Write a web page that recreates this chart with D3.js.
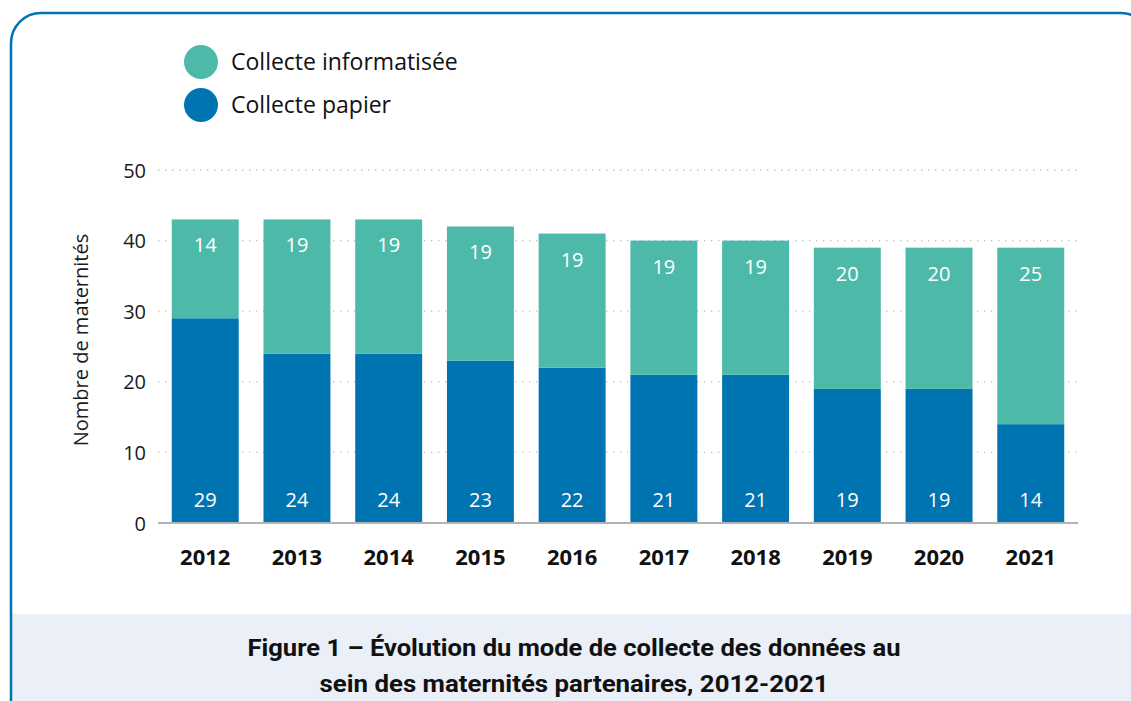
<!DOCTYPE html>
<html lang="fr">
<head>
    <meta charset="UTF-8">
    <title>Figure 1</title>
    <script src="https://d3js.org/d3.v7.min.js"></script>
    <style>
        body { margin: 0; background: white; }
        svg { display: block; }
    </style>
</head>
<body>
    <svg></svg>
    <script>
        // Data
        var years = ["2012", "2013", "2014", "2015", "2016", "2017", "2018", "2019", "2020", "2021"];
        var papier = [29, 24, 24, 23, 22, 21, 21, 19, 19, 14];
        var informatisee = [14, 19, 19, 19, 19, 19, 19, 20, 20, 25];
        var yTicks = [0, 10, 20, 30, 40, 50];
        var seriesNames = ["Collecte informatisée", "Collecte papier"];
        var titleLines = ["Figure 1 – Évolution du mode de collecte des données au",
                          "sein des maternités partenaires, 2012-2021"];

        var width = 1131, height = 701;
        var colTeal = "#4dbaa9", colBlue = "#0074b1";
        var svg = d3.select("svg").attr("width", width).attr("height", height);

        // Frame and caption band
        var defs = svg.append("defs");
        defs.append("clipPath").attr("id", "frameClip")
            .append("rect").attr("x", 11).attr("y", 13).attr("width", 1140).attr("height", 720).attr("rx", 30);
        svg.append("rect").attr("x", 11).attr("y", 614).attr("width", 1140).attr("height", 120)
            .attr("fill", "#ebeff7").attr("clip-path", "url(#frameClip)");
        svg.append("rect").attr("x", 11).attr("y", 13).attr("width", 1140).attr("height", 720)
            .attr("rx", 30).attr("fill", "none").attr("stroke", "#0074b1").attr("stroke-width", 2.5);

        // Scales
        var x = d3.scaleBand().domain(years).range([158, 1078]).paddingInner(0.27).paddingOuter(0.15);
        var y = d3.scaleLinear().domain([0, 50]).range([523, 170]);

        // Grid lines
        svg.append("g").selectAll("line").data(yTicks.filter(d => d > 0)).enter().append("line")
            .attr("x1", 158).attr("x2", 1078)
            .attr("y1", d => y(d)).attr("y2", d => y(d))
            .attr("stroke", "#bdbdbd").attr("stroke-width", 1.3).attr("stroke-dasharray", "1.3,5.7");

        // Y axis
        var yAxis = svg.append("g").attr("transform", "translate(146,0)")
            .call(d3.axisLeft(y).tickValues(yTicks).tickSize(0).tickPadding(0));
        yAxis.select(".domain").remove();
        yAxis.selectAll("text").attr("font-family", "Open Sans, Noto Sans, sans-serif")
            .attr("font-size", 20).attr("fill", "#1a1a1a").attr("dy", "0.35em");

        svg.append("text").attr("transform", "translate(88,340) rotate(-90)")
            .attr("text-anchor", "middle").attr("font-family", "Open Sans, Noto Sans, sans-serif")
            .attr("font-size", 20).attr("fill", "#1a1a1a").text("Nombre de maternités");

        // Stacked bars
        var rows = years.map(function(yr, i) { return {year: yr, papier: papier[i], info: informatisee[i]}; });
        var stack = d3.stack().keys(["papier", "info"])(rows);
        var colors = {papier: colBlue, info: colTeal};

        var layer = svg.append("g").selectAll("g").data(stack).enter().append("g")
            .attr("fill", d => colors[d.key]);
        layer.selectAll("rect").data(d => d).enter().append("rect")
            .attr("x", d => x(d.data.year)).attr("width", x.bandwidth())
            .attr("y", d => y(d[1])).attr("height", d => y(d[0]) - y(d[1]));

        // Value labels
        var lbl = svg.append("g").attr("font-family", "Open Sans, Noto Sans, sans-serif")
            .attr("font-size", 20).attr("fill", "white").attr("text-anchor", "middle");
        lbl.selectAll(".lp").data(rows).enter().append("text")
            .attr("x", d => x(d.year) + x.bandwidth() / 2).attr("y", y(0) - 16)
            .text(d => d.papier);
        lbl.selectAll(".li").data(rows).enter().append("text")
            .attr("x", d => x(d.year) + x.bandwidth() / 2).attr("y", d => y(d.papier + d.info) + 33)
            .text(d => d.info);

        // Baseline
        svg.append("line").attr("x1", 158).attr("x2", 1078).attr("y1", y(0)).attr("y2", y(0))
            .attr("stroke", "#b3b3b3").attr("stroke-width", 2);

        // X axis labels
        svg.append("g").selectAll("text").data(years).enter().append("text")
            .attr("x", d => x(d) + x.bandwidth() / 2).attr("y", 565)
            .attr("text-anchor", "middle").attr("font-family", "Noto Sans, Open Sans, sans-serif")
            .attr("font-weight", "bold").attr("font-size", 22).attr("fill", "#111").text(d => d);

        // Legend
        var legend = svg.append("g").selectAll("g").data(seriesNames).enter().append("g")
            .attr("transform", (d, i) => "translate(201," + (62 + i * 43) + ")");
        legend.append("circle").attr("r", 17).attr("fill", (d, i) => i === 0 ? colTeal : colBlue);
        legend.append("text").attr("x", 30).attr("dy", "0.35em")
            .attr("font-family", "Open Sans, Noto Sans, sans-serif").attr("font-size", 23)
            .attr("fill", "#111").text(d => d);

        // Caption title
        var tl = [653, 509];
        svg.append("g").selectAll("text").data(titleLines).enter().append("text")
            .attr("x", 574).attr("y", (d, i) => 656 + i * 36)
            .attr("text-anchor", "middle").attr("font-family", "Roboto, sans-serif")
            .attr("font-weight", "bold").attr("font-size", 24).attr("fill", "#111")
            .attr("textLength", (d, i) => tl[i]).attr("lengthAdjust", "spacingAndGlyphs")
            .text(d => d);
    </script>
</body>
</html>
